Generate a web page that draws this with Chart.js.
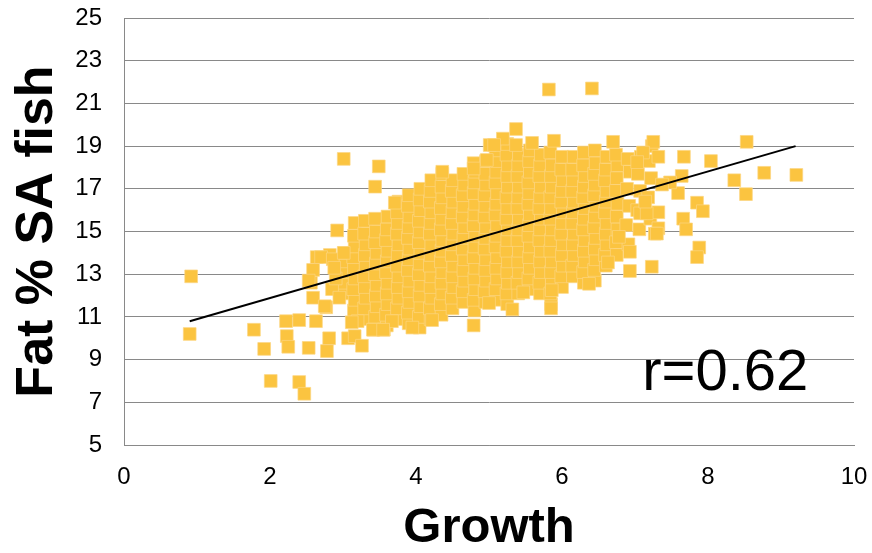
<!DOCTYPE html>
<html>
<head>
<meta charset="utf-8">
<script src="https://cdn.jsdelivr.net/npm/chart.js@4"></script>
<style>
  html, body { margin: 0; padding: 0; background: #fff; }
</style>
</head>
<body>
<canvas id="fishChart" width="872" height="553"></canvas>
<script>
// Growth vs fat % (SA fish)
const growthTicks = [0, 2, 4, 6, 8, 10];
const fatTicks = [5, 7, 9, 11, 13, 15, 17, 19, 21, 23, 25];

// points away from the main cloud
const fishOutliers = [
  [0.90,10.2],[0.92,12.9],[1.78,10.4],[1.92,9.5],[2.01,8.0],[2.40,7.95],[2.47,7.4],
  [2.22,10.8],[2.40,10.85],[2.63,10.8],[2.23,10.1],[2.25,9.6],[2.53,9.55],[2.78,9.4],
  [2.81,10.0],[3.07,10.0],[3.16,10.1],[3.26,9.65],[3.20,10.8],[3.42,10.4],[3.56,10.4],[3.67,10.8],
  [2.59,11.9],[2.77,11.45],[2.56,12.6],[2.59,13.2],[2.64,13.8],[2.82,13.9],[2.70,13.8],[2.86,13.7],
  [2.85,12.3],[2.90,12.8],[2.88,13.3],[2.95,11.9],[2.53,12.7],[2.75,11.5],
  [3.01,14.0],[2.92,15.05],[3.01,18.4],[3.49,18.05],[3.44,17.1],[3.71,16.35],[4.36,17.8],
  [4.79,10.6],[4.79,17.95],[4.97,18.35],[5.01,19.05],
  [3.12,10.75],[3.41,10.4],[3.55,10.4],[3.95,10.5],[4.22,10.85],
  [5.82,21.65],[6.41,21.7],[5.37,19.8],[5.19,19.35],[5.07,19.05],[5.37,19.05],[5.59,19.15],
  [5.89,19.25],[6.70,19.2],[7.25,19.2],
  [5.32,11.35],[5.85,11.4],[6.37,12.55],[6.93,14.05],[6.93,13.15],[7.23,13.35],[5.00,11.65],
  [5.47,12.15],[5.86,12.25],[6.63,13.55],[6.78,14.75],
  [8.53,19.2],[7.67,18.5],[8.04,18.3],[8.36,17.4],[8.77,17.75],[9.21,17.65],[8.52,16.75],
  [7.64,17.6],[7.59,16.8],[7.85,16.35],[7.93,15.95],[7.66,15.6],[7.70,15.1],[7.32,15.15],
  [7.27,14.9],[7.88,14.25],[7.85,13.8],[7.07,15.85],[7.32,15.9],[7.32,18.5],[7.11,18.7],
  [7.03,18.25],[7.48,17.3],[7.37,17.2],[7.16,15.85],[7.14,16.4],[7.30,14.9]
];

// the dense cloud, column by column from left to right
const fishCloud = [
  [3.00,12.1],[3.01,12.6],[2.99,13.1],[3.01,13.6],[3.02,14.0],
  [3.15,11.3],[3.16,11.8],[3.14,12.3],[3.16,12.8],[3.15,13.3],[3.14,13.8],[3.16,14.3],[3.15,14.8],[3.16,15.4],
  [3.30,10.9],[3.29,11.4],[3.31,11.9],[3.30,12.4],[3.29,12.9],[3.31,13.4],[3.30,13.9],[3.31,14.4],[3.29,14.9],[3.30,15.5],
  [3.45,10.5],[3.44,11.0],[3.46,11.5],[3.45,12.0],[3.46,12.5],[3.44,13.0],[3.45,13.5],[3.46,14.0],[3.44,14.5],[3.45,15.0],[3.44,15.6],
  [3.60,10.6],[3.59,11.1],[3.61,11.6],[3.60,12.1],[3.61,12.6],[3.59,13.1],[3.60,13.6],[3.61,14.1],[3.59,14.6],[3.60,15.1],[3.61,15.7],
  [3.75,10.9],[3.74,11.4],[3.76,11.9],[3.75,12.4],[3.76,12.9],[3.74,13.4],[3.75,13.9],[3.76,14.4],[3.74,14.9],[3.75,15.4],[3.74,15.9],[3.76,16.4],
  [3.90,10.7],[3.89,11.2],[3.91,11.7],[3.90,12.2],[3.91,12.7],[3.89,13.2],[3.90,13.7],[3.91,14.2],[3.89,14.7],[3.90,15.2],[3.91,15.7],[3.89,16.2],[3.90,16.7],
  [4.05,10.5],[4.04,11.0],[4.06,11.5],[4.05,12.0],[4.06,12.5],[4.04,13.0],[4.05,13.5],[4.06,14.0],[4.04,14.5],[4.05,15.0],[4.04,15.5],[4.06,16.0],[4.05,16.5],[4.06,17.0],
  [4.20,10.9],[4.19,11.4],[4.21,11.9],[4.20,12.4],[4.21,12.9],[4.19,13.4],[4.20,13.9],[4.21,14.4],[4.19,14.9],[4.20,15.4],[4.21,15.9],[4.19,16.4],[4.20,16.9],[4.21,17.4],
  [4.35,11.1],[4.34,11.6],[4.36,12.1],[4.35,12.6],[4.36,13.1],[4.34,13.6],[4.35,14.1],[4.36,14.6],[4.34,15.1],[4.35,15.6],[4.34,16.1],[4.36,16.6],[4.35,17.1],[4.36,17.7],
  [4.50,11.4],[4.49,11.9],[4.51,12.4],[4.50,12.9],[4.51,13.4],[4.49,13.9],[4.50,14.4],[4.51,14.9],[4.49,15.4],[4.50,15.9],[4.51,16.4],[4.49,16.9],[4.50,17.4],
  [4.65,11.7],[4.64,12.2],[4.66,12.7],[4.65,13.2],[4.66,13.7],[4.64,14.2],[4.65,14.7],[4.66,15.2],[4.64,15.7],[4.65,16.2],[4.64,16.7],[4.66,17.2],[4.65,17.7],
  [4.80,11.3],[4.79,11.8],[4.81,12.3],[4.80,12.8],[4.81,13.3],[4.79,13.8],[4.80,14.3],[4.81,14.8],[4.79,15.3],[4.80,15.8],[4.81,16.3],[4.79,16.8],[4.80,17.3],[4.81,17.8],[4.79,18.2],
  [4.95,11.7],[4.94,12.2],[4.96,12.7],[4.95,13.2],[4.96,13.7],[4.94,14.2],[4.95,14.7],[4.96,15.2],[4.94,15.7],[4.95,16.2],[4.94,16.7],[4.96,17.2],[4.95,17.7],[4.96,18.3],
  [5.10,11.8],[5.09,12.3],[5.11,12.8],[5.10,13.3],[5.11,13.8],[5.09,14.3],[5.10,14.8],[5.11,15.3],[5.09,15.8],[5.10,16.3],[5.11,16.8],[5.09,17.3],[5.10,17.8],[5.11,18.3],[5.09,18.8],
  [5.25,11.6],[5.24,12.1],[5.26,12.6],[5.25,13.1],[5.26,13.6],[5.24,14.1],[5.25,14.6],[5.26,15.1],[5.24,15.6],[5.25,16.1],[5.24,16.6],[5.26,17.1],[5.25,17.6],[5.26,18.1],[5.24,18.6],[5.25,19.1],
  [5.40,12.1],[5.39,12.6],[5.41,13.1],[5.40,13.6],[5.41,14.1],[5.39,14.6],[5.40,15.1],[5.41,15.6],[5.39,16.1],[5.40,16.6],[5.41,17.1],[5.39,17.6],[5.40,18.1],[5.41,18.6],
  [5.55,12.3],[5.54,12.8],[5.56,13.3],[5.55,13.8],[5.56,14.3],[5.54,14.8],[5.55,15.3],[5.56,15.8],[5.54,16.3],[5.55,16.8],[5.54,17.3],[5.56,17.8],[5.55,18.3],[5.56,18.8],
  [5.70,12.1],[5.69,12.6],[5.71,13.1],[5.70,13.6],[5.71,14.1],[5.69,14.6],[5.70,15.1],[5.71,15.6],[5.69,16.1],[5.70,16.6],[5.71,17.1],[5.69,17.6],[5.70,18.1],[5.71,18.6],
  [5.85,11.6],[5.84,12.1],[5.86,12.6],[5.85,13.1],[5.86,13.6],[5.84,14.1],[5.85,14.6],[5.86,15.1],[5.84,15.6],[5.85,16.1],[5.84,16.6],[5.86,17.1],[5.85,17.6],[5.86,18.1],[5.84,18.7],
  [6.00,12.4],[5.99,12.9],[6.01,13.4],[6.00,13.9],[6.01,14.4],[5.99,14.9],[6.00,15.4],[6.01,15.9],[5.99,16.4],[6.00,16.9],[6.01,17.4],[5.99,17.9],[6.00,18.5],
  [6.15,12.9],[6.14,13.4],[6.16,13.9],[6.15,14.4],[6.16,14.9],[6.14,15.4],[6.15,15.9],[6.16,16.4],[6.14,16.9],[6.15,17.4],[6.14,17.9],[6.16,18.5],
  [6.30,12.6],[6.29,13.1],[6.31,13.6],[6.30,14.1],[6.31,14.6],[6.29,15.1],[6.30,15.6],[6.31,16.1],[6.29,16.6],[6.30,17.1],[6.31,17.6],[6.29,18.1],[6.30,18.7],
  [6.45,12.7],[6.44,13.2],[6.46,13.7],[6.45,14.2],[6.46,14.7],[6.44,15.2],[6.45,15.7],[6.46,16.2],[6.44,16.7],[6.45,17.2],[6.44,17.7],[6.46,18.2],[6.45,18.8],
  [6.60,13.4],[6.59,13.9],[6.61,14.4],[6.60,14.9],[6.61,15.4],[6.59,15.9],[6.60,16.4],[6.61,16.9],[6.59,17.4],[6.60,17.9],[6.61,18.5],
  [6.75,13.9],[6.74,14.5],[6.76,15.1],[6.75,15.7],[6.76,16.3],[6.74,16.9],[6.75,17.5],[6.76,18.1],[6.74,18.6],
  [6.91,14.4],[6.88,15.3],[6.92,16.2],[6.89,17.0],[6.93,17.8],[6.90,18.4],
  [7.06,15.1],[7.03,16.0],[7.07,16.9],[7.04,17.7],[7.08,18.5],
  [7.21,15.6],[7.18,16.6],[7.22,17.5],[7.19,18.3],[7.23,19.0]
];

// linear trend line, end points
const trendX = [0.9, 9.2];
const trendY = [10.8, 19.0];

const rText = 'r=0.62';

const FONT = '"Liberation Sans", Arial, sans-serif';
const GRID = '#898989';

const toXY = p => ({ x: p[0], y: p[1] });

// r value written inside the plot
const rLabel = {
  id: 'rLabel',
  afterDraw(chart) {
    const { ctx, scales } = chart;
    ctx.save();
    ctx.font = '58px ' + FONT;
    ctx.fillStyle = '#000';
    ctx.textBaseline = 'alphabetic';
    ctx.fillText(rText, scales.x.getPixelForValue(7.1), scales.y.getPixelForValue(7.58));
    ctx.restore();
  }
};

const ctx = document.getElementById('fishChart').getContext('2d');
new Chart(ctx, {
  type: 'scatter',
  data: {
    datasets: [
      {
        type: 'line',
        data: trendX.map((x, i) => ({ x: x, y: trendY[i] })),
        borderColor: '#000',
        borderWidth: 2,
        pointRadius: 0,
        fill: false,
        order: 0
      },
      {
        data: fishCloud.concat(fishOutliers).map(toXY),
        pointStyle: 'rect',
        pointRadius: 9,
        pointHoverRadius: 9,
        backgroundColor: '#FBC440',
        borderColor: 'rgba(252, 214, 130, 0.7)',
        borderWidth: 1,
        order: 1
      }
    ]
  },
  options: {
    responsive: false,
    animation: false,
    devicePixelRatio: 1,
    layout: { padding: { top: 18, right: 18, left: 0, bottom: 0 } },
    plugins: {
      legend: { display: false },
      tooltip: { enabled: false }
    },
    scales: {
      x: {
        type: 'linear',
        min: 0,
        max: 10,
        afterBuildTicks(scale) { scale.ticks = growthTicks.map(v => ({ value: v })); },
        afterFit(scale) {
          scale.height = 108;
          scale.paddingLeft = 0;
          scale.paddingRight = 0;
        },
        ticks: { color: '#000', font: { family: FONT, size: 24 }, padding: 18 },
        grid: { display: false, drawTicks: false },
        border: { color: GRID, width: 1 },
        title: {
          display: true,
          text: 'Growth',
          color: '#000',
          font: { family: FONT, size: 49, weight: 'bold', lineHeight: 1 },
          padding: 0
        }
      },
      y: {
        min: 5,
        max: 25,
        afterBuildTicks(scale) { scale.ticks = fatTicks.map(v => ({ value: v })); },
        afterFit(scale) {
          scale.width = 124;
          scale.paddingTop = 0;
          scale.paddingBottom = 0;
        },
        ticks: { color: '#000', font: { family: FONT, size: 24 }, padding: 22 },
        grid: { color: GRID, lineWidth: 1, drawTicks: false },
        border: { color: GRID, width: 1 },
        title: {
          display: true,
          text: 'Fat % SA fish',
          color: '#000',
          font: { family: FONT, size: 52, weight: 'bold', lineHeight: 1 },
          padding: { top: 12, bottom: 0 }
        }
      }
    }
  },
  plugins: [rLabel]
});
</script>
</body>
</html>
